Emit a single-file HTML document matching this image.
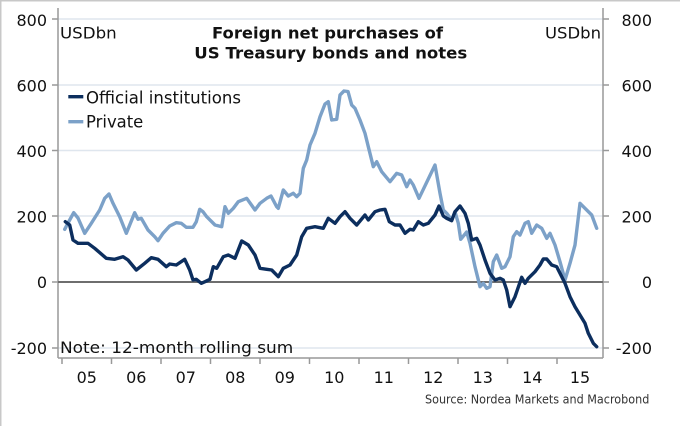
<!DOCTYPE html>
<html><head><meta charset="utf-8"><style>
html,body{margin:0;padding:0;background:#fff;}
svg{display:block;}
text{font-family:"DejaVu Sans","Liberation Sans",sans-serif;fill:#111;}
</style></head><body>
<svg width="680" height="426" viewBox="0 0 680 426" xmlns="http://www.w3.org/2000/svg">
<rect x="0" y="0" width="680" height="426" fill="#fff"/>
<line x1="0" y1="0.75" x2="680" y2="0.75" stroke="#c8c8c8" stroke-width="1.5"/>
<line x1="0.75" y1="0" x2="0.75" y2="426" stroke="#c8c8c8" stroke-width="1.5"/>
<!-- gridlines -->
<g stroke="#dfe6ee" stroke-width="1.5">
<line x1="58" y1="19" x2="603" y2="19"/>
<line x1="58" y1="85" x2="603" y2="85"/>
<line x1="58" y1="150.5" x2="603" y2="150.5"/>
<line x1="58" y1="216" x2="603" y2="216"/>
<line x1="58" y1="348" x2="603" y2="348"/>
</g>
<!-- axes -->
<g stroke="#999" stroke-width="1.5">
<line x1="58" y1="8" x2="58" y2="358"/>
<line x1="603" y1="8" x2="603" y2="358"/>
<line x1="58" y1="358" x2="603" y2="358"/>
<line x1="52" y1="19" x2="58" y2="19"/><line x1="52" y1="85" x2="58" y2="85"/><line x1="52" y1="150.5" x2="58" y2="150.5"/><line x1="52" y1="216" x2="58" y2="216"/><line x1="52" y1="282" x2="58" y2="282"/><line x1="52" y1="348" x2="58" y2="348"/>
<line x1="603" y1="19" x2="609" y2="19"/><line x1="603" y1="85" x2="609" y2="85"/><line x1="603" y1="150.5" x2="609" y2="150.5"/><line x1="603" y1="216" x2="609" y2="216"/><line x1="603" y1="282" x2="609" y2="282"/><line x1="603" y1="348" x2="609" y2="348"/>
<line x1="62" y1="358" x2="62" y2="364"/><line x1="111.5" y1="358" x2="111.5" y2="364"/><line x1="161" y1="358" x2="161" y2="364"/><line x1="210.5" y1="358" x2="210.5" y2="364"/><line x1="260" y1="358" x2="260" y2="364"/><line x1="309.5" y1="358" x2="309.5" y2="364"/><line x1="359" y1="358" x2="359" y2="364"/><line x1="408.5" y1="358" x2="408.5" y2="364"/><line x1="458" y1="358" x2="458" y2="364"/><line x1="507.5" y1="358" x2="507.5" y2="364"/><line x1="557" y1="358" x2="557" y2="364"/>
</g>
<line x1="58" y1="282" x2="603" y2="282" stroke="#6e6e6e" stroke-width="2"/>
<!-- left labels -->
<g font-size="16" text-anchor="end">
<text x="47" y="25.8">800</text>
<text x="47" y="91.5">600</text>
<text x="47" y="157">400</text>
<text x="47" y="222.5">200</text>
<text x="47" y="288">0</text>
<text x="47" y="354">-200</text>
</g>
<g font-size="16" text-anchor="end">
<text x="652" y="25.8">800</text>
<text x="652" y="91.5">600</text>
<text x="652" y="157">400</text>
<text x="652" y="222.5">200</text>
<text x="652" y="288">0</text>
<text x="652" y="354">-200</text>
</g>
<!-- x labels -->
<g font-size="16" text-anchor="middle">
<text x="86.75" y="383">05</text>
<text x="136.25" y="383">06</text>
<text x="185.75" y="383">07</text>
<text x="235.25" y="383">08</text>
<text x="284.75" y="383">09</text>
<text x="334.25" y="383">10</text>
<text x="383.75" y="383">11</text>
<text x="433.25" y="383">12</text>
<text x="482.75" y="383">13</text>
<text x="532.25" y="383">14</text>
<text x="580" y="383">15</text>
</g>
<!-- title -->
<text x="212" y="38.3" font-size="16" font-weight="bold" textLength="231" lengthAdjust="spacingAndGlyphs">Foreign net purchases of</text>
<text x="194.3" y="58.3" font-size="16" font-weight="bold" textLength="273" lengthAdjust="spacingAndGlyphs">US Treasury bonds and notes</text>
<text x="60" y="38.3" font-size="16" textLength="56.7" lengthAdjust="spacingAndGlyphs">USDbn</text>
<text x="545" y="38.3" font-size="16" textLength="56" lengthAdjust="spacingAndGlyphs">USDbn</text>
<!-- legend -->
<line x1="68.3" y1="96.7" x2="83.3" y2="96.7" stroke="#0c2e5e" stroke-width="3.4"/>
<text x="86" y="103.3" font-size="16.5" textLength="155" lengthAdjust="spacingAndGlyphs">Official institutions</text>
<line x1="68.3" y1="121.7" x2="83.3" y2="121.7" stroke="#7ca1c8" stroke-width="3.4"/>
<text x="86" y="127.3" font-size="16.5" textLength="57.3" lengthAdjust="spacingAndGlyphs">Private</text>
<!-- note & source -->
<text x="60" y="353" font-size="16" textLength="233.3" lengthAdjust="spacingAndGlyphs">Note: 12-month rolling sum</text>
<text x="425" y="403.7" font-size="12.5" fill="#333" style="fill:#333" textLength="224.3" lengthAdjust="spacingAndGlyphs">Source: Nordea Markets and Macrobond</text>
<!-- series -->
<polyline fill="none" stroke="#7ca1c8" stroke-width="3.4" stroke-linejoin="round" stroke-linecap="round" points="64.7,229.3 68,223 73.7,212.7 78,218 84.7,233.3 91.3,223.3 99.7,210 104.7,198.3 109,194 113,203.3 119.7,216.7 126.3,233.3 134.7,212.7 138,219.3 141.3,218.3 148,230 154.7,236.7 158,240.7 163,233.3 169.7,226 176.3,222.7 181.3,223.3 186.3,227.3 193,227.3 196.3,221.7 199.7,209.3 203,211.7 206.7,216.7 215,225 221.7,226.7 225,206.7 228.3,213.3 233.3,208.3 238.3,201.7 246.7,198.3 255,210 260,203.3 266.7,198.3 271,196 276.7,206.7 278.3,208.3 283.3,190 288.3,196 293.3,193.3 296.7,196.7 300,193.3 303.3,168.3 306.7,160 310,145 315,133.3 320,116.7 325,104 328.3,101.7 331.7,120 336.7,119.3 340,95 344,91 348,91.5 351.7,105 355,108.3 360,120 365,133.3 368.3,146.7 373.3,166.7 376.7,161.7 381.7,171.7 390,181.7 396.7,173.3 401.7,175 406.7,186.7 410,180 413.3,185 419,198.3 435,165 440,193.3 443.3,210 446.7,213.3 451.7,220 455,211.7 458.3,223.3 460.7,239.3 466.7,232 470,243.3 475,266.7 480,286.7 483.3,283.3 486.7,288.3 490,286.7 493.3,261.7 496.7,255 501.7,268.3 505,266.7 510,256.7 513.3,236.7 516.7,231.7 520,235 525,223.3 528.3,221.7 531.7,233.3 536.7,225 541.7,228.3 546.7,238.3 550,233.3 555,245 560,261.7 565,280 570,263.3 575,245 580,203.3 585,208.3 591.7,215 596.7,228.3"/>
<polyline fill="none" stroke="#0c2e5e" stroke-width="3.4" stroke-linejoin="round" stroke-linecap="round" points="65.3,221.7 69.7,225 73,240 78,243.3 88,243.3 94.7,248.3 106.3,258.3 114.7,259.3 123,256.7 128,260 136.3,270 144.7,263.3 151.3,257.7 158,259.3 166.3,266.7 169.7,264 176.3,265 184.7,259.3 189.7,270 193,280 196.3,279.3 201.3,283.3 205,281.7 210,279.3 213.3,266.7 216.7,268.3 223.3,256.7 228.3,255 235,258.3 241.7,241 248.3,245 255,255 260,268.3 266.7,269.3 271.7,270 278.3,276.7 283.3,268.3 290,265 296.7,255 301.7,236.7 306.7,228.3 315,226.7 323.3,228.3 328.3,218.3 335,223.3 340,216.7 345,211.7 350,218.3 356.7,225 365,215 368.3,220 375,211.7 380,210 385,209.3 389.3,221.7 395,225 400,225 405,233.3 410,229.3 413.3,230 418.3,221.7 423.3,225 428.3,223.3 435,215 439,206 443.3,216 446.7,218.3 451.7,220.7 455,211.7 460,206 465,213.3 468.3,223.3 471.7,240 476.7,238.3 480,245 485,260 490,273.3 495,280 500,278.3 503.3,280 506.7,290 510,306.7 515,296.7 521.7,277.3 525,283.3 528.3,278.3 535,271.7 540,265 543.3,259 546.7,259 551.7,265 556.7,266.7 560,273.3 565,283.3 570,296.7 575,306.7 580,315 585,323.3 588.3,333.3 593.3,343.3 596.7,346.7"/>
</svg>
</body></html>
